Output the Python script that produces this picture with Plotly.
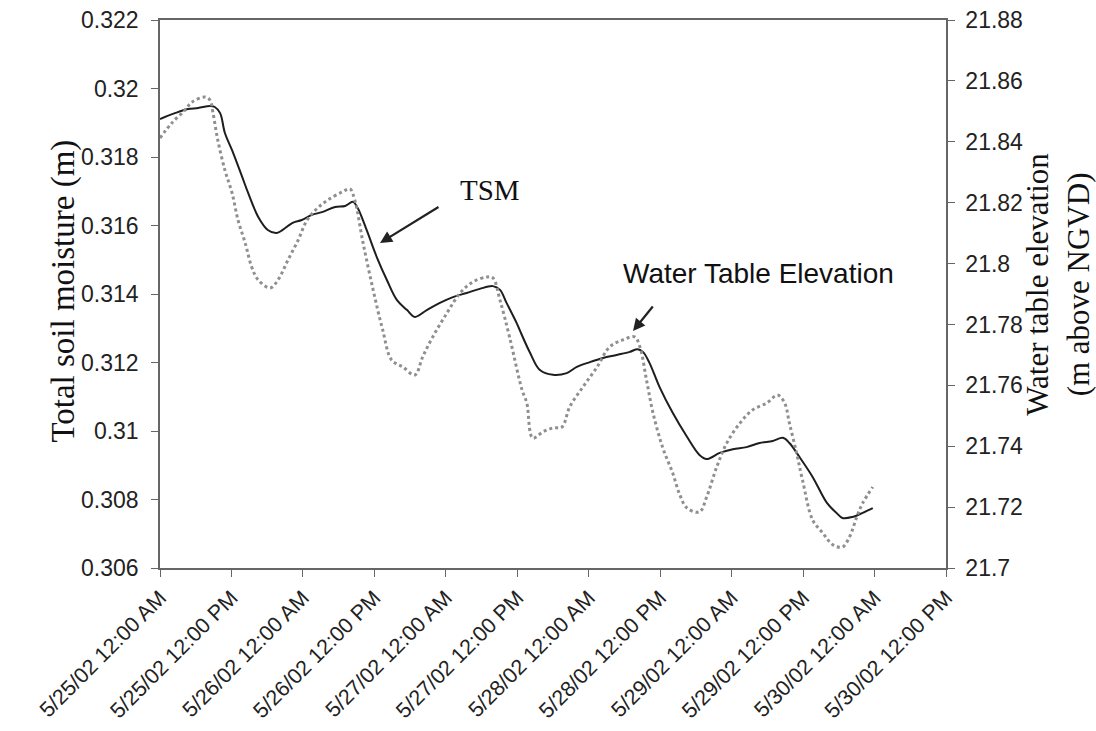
import pandas as pd
import plotly.graph_objects as go

# Hours after 5/25/02 12:00 AM and total soil moisture (m)
tsm_hours = [0, 2.5, 4.7, 6.4, 8.4, 9.2, 10.1, 10.9, 12.1, 13.8, 14.8, 16.5, 18.1, 19.6,
             20.6, 22.2, 23.8, 25.5, 27.2, 29.4, 31.1, 32.4, 33.2, 34.7, 36.4, 38.1, 39.8,
             41.5, 42.8, 44.8, 47.0, 49.2, 51.5, 53.7, 55.9, 57.1, 58.2, 59.9, 60.4, 62.1,
             63.8, 66.0, 68.3, 70.0, 72.2, 74.4, 76.7, 78.9, 80.2, 81.1, 82.2, 83.9, 86.1,
             88.5, 90.6, 91.8, 94.0, 96.2, 98.5, 100.7, 102.9, 104.6, 105.7, 107.4, 109.6,
             112.0, 113.6, 114.6, 116.3, 118.0, 119.7]
tsm_values = [0.31911, 0.31928, 0.31940, 0.31943, 0.31949, 0.31946, 0.31928, 0.31870,
              0.31820, 0.31742, 0.31695, 0.31625, 0.31587, 0.31578, 0.31587, 0.31607,
              0.31616, 0.31631, 0.31639, 0.31654, 0.31657, 0.31669, 0.31651, 0.31587,
              0.31508, 0.31441, 0.31382, 0.31353, 0.31333, 0.31353, 0.31374, 0.31391,
              0.31403, 0.31415, 0.31423, 0.31412, 0.31374, 0.31315, 0.31295, 0.31230,
              0.31178, 0.31164, 0.31169, 0.31187, 0.31201, 0.31213, 0.31222, 0.31231,
              0.31239, 0.31231, 0.31199, 0.31128, 0.31053, 0.30983, 0.30930, 0.30918,
              0.30936, 0.30947, 0.30953, 0.30965, 0.30971, 0.30980, 0.30965, 0.30924,
              0.30866, 0.30790, 0.30761, 0.30746, 0.30749, 0.30761, 0.30775]

# Hours after 5/25/02 12:00 AM and water table elevation (m above NGVD)
wte_hours = [0, 2.0, 4.2, 5.4, 7.6, 8.4, 8.9, 9.7, 10.9, 12.1, 13.1, 14.3, 15.4, 16.5,
             18.5, 19.8, 21.5, 23.2, 24.7, 26.5, 28.2, 30.6, 31.9, 32.7, 34.1, 35.8, 37.4,
             38.9, 40.8, 42.8, 44.1, 45.8, 48.2, 50.4, 52.5, 54.9, 55.9, 57.1, 58.7, 60.8,
             61.6, 62.6, 64.3, 66.0, 67.5, 68.8, 71.0, 73.4, 75.5, 77.7, 79.7, 80.6, 81.7,
             82.8, 84.4, 86.1, 87.3, 88.5, 90.6, 91.8, 93.5, 95.2, 97.4, 99.5, 101.9, 103.7,
             104.9, 105.7, 106.9, 107.9, 109.6, 111.3, 113.0, 114.6, 115.8, 117.0, 118.0,
             119.7]
wte_values = [21.8412, 21.8462, 21.8504, 21.8531, 21.8547, 21.8537, 21.8495, 21.8406,
              21.8307, 21.8232, 21.8143, 21.8068, 21.7989, 21.7946, 21.7920, 21.7946,
              21.8012, 21.8077, 21.8143, 21.8183, 21.8209, 21.8235, 21.8245, 21.8209,
              21.8068, 21.7913, 21.7782, 21.7683, 21.7660, 21.7634, 21.7693, 21.7759,
              21.7838, 21.7903, 21.7939, 21.7956, 21.7953, 21.7880, 21.7759, 21.7585,
              21.7542, 21.7427, 21.7447, 21.7460, 21.7463, 21.7529, 21.7594, 21.7660,
              21.7726, 21.7749, 21.7759, 21.7726, 21.7618, 21.7509, 21.7397, 21.7312,
              21.7240, 21.7197, 21.7184, 21.7233, 21.7332, 21.7411, 21.7476, 21.7519,
              21.7542, 21.7568, 21.7542, 21.7476, 21.7378, 21.7289, 21.7158, 21.7115,
              21.7076, 21.7069, 21.7102, 21.7167, 21.7213, 21.7266]

left_ticks = [0.306, 0.308, 0.310, 0.312, 0.314, 0.316, 0.318, 0.320, 0.322]
left_labels = ["0.306", "0.308", "0.31", "0.312", "0.314", "0.316", "0.318", "0.32", "0.322"]
right_ticks = [21.70, 21.72, 21.74, 21.76, 21.78, 21.80, 21.82, 21.84, 21.86, 21.88]
right_labels = ["21.7", "21.72", "21.74", "21.76", "21.78", "21.8", "21.82", "21.84",
                "21.86", "21.88"]

start = pd.Timestamp("2002-05-25 00:00")
tsm_time = [start + pd.Timedelta(hours=h) for h in tsm_hours]
wte_time = [start + pd.Timedelta(hours=h) for h in wte_hours]

fig = go.Figure()
fig.add_trace(go.Scatter(x=wte_time, y=wte_values, yaxis="y2", mode="lines",
                         line=dict(color="#8f8f8f", width=3, dash="dot"),
                         name="Water Table Elevation", line_shape="spline"))
fig.add_trace(go.Scatter(x=tsm_time, y=tsm_values, mode="lines",
                         line=dict(color="#1e1e1e", width=2),
                         name="TSM", line_shape="spline"))

tick_font = dict(family="Liberation Sans, Arial", size=23, color="#222")
date_font = dict(family="Liberation Sans, Arial", size=21.5, color="#222")
axis_color = "#666"

fig.update_layout(
    width=1096, height=731,
    margin=dict(l=160, r=150, t=20, b=163),
    paper_bgcolor="white", plot_bgcolor="white",
    showlegend=False,
    xaxis=dict(
        type="date", automargin=False,
        range=[start, start + pd.Timedelta(hours=132)],
        tick0=start, dtick=12 * 3600 * 1000,
        tickformat="%-m/%d/%y %I:%M %p",
        tickangle=-45, tickfont=date_font,
        ticks="outside", ticklen=7, tickcolor=axis_color,
        showline=True, linecolor=axis_color, linewidth=1.5, mirror=True,
        showgrid=False, zeroline=False,
    ),
    yaxis=dict(
        automargin=False,
        range=[0.306, 0.322], tickvals=left_ticks, ticktext=left_labels,
        tickfont=tick_font, ticks="outside", ticklen=7, tickcolor=axis_color,
        ticklabelstandoff=8,
        showline=True, linecolor=axis_color, linewidth=1.5,
        showgrid=False, zeroline=False,
    ),
    yaxis2=dict(
        automargin=False,
        range=[21.70, 21.88], tickvals=right_ticks, ticktext=right_labels,
        overlaying="y", side="right",
        tickfont=tick_font, ticks="outside", ticklen=7, tickcolor=axis_color,
        ticklabelstandoff=6,
        showline=True, linecolor=axis_color, linewidth=1.5,
        showgrid=False, zeroline=False,
    ),
)

title_font = dict(family="Liberation Serif, Times New Roman", size=33, color="#111")
fig.add_annotation(text="Total soil moisture (m)", xref="paper", yref="paper",
                   x=-0.123, y=0.505, xanchor="center", yanchor="middle",
                   textangle=-90, showarrow=False, font=title_font)
fig.add_annotation(text="Water table elevation<br>(m above NGVD)", xref="paper",
                   yref="paper", x=1.142, y=0.518, xanchor="center", yanchor="middle",
                   textangle=-90, showarrow=False,
                   font=dict(family="Liberation Serif, Times New Roman", size=31,
                             color="#111"))

# Series call-outs
fig.add_annotation(text="TSM", xref="paper", yref="paper", x=0.420, y=0.69,
                   xanchor="center", yanchor="middle", showarrow=False,
                   font=dict(family="Liberation Serif, Times New Roman", size=29,
                             color="#111"))
fig.add_annotation(text="", xref="paper", yref="paper", x=0.2799, y=0.593,
                   ax=60, ay=-37, showarrow=True, arrowhead=2, arrowsize=1.1,
                   arrowwidth=2.2, arrowcolor="#222")
fig.add_annotation(text="Water Table Elevation", xref="paper", yref="paper",
                   x=0.761, y=0.538, xanchor="center", yanchor="middle",
                   showarrow=False,
                   font=dict(family="Liberation Sans, Arial", size=28, color="#111"))
fig.add_annotation(text="", xref="paper", yref="paper", x=0.6018, y=0.4325,
                   ax=21, ay=-26, showarrow=True, arrowhead=2, arrowsize=1.1,
                   arrowwidth=2.2, arrowcolor="#222")

fig.write_html("out.html")
